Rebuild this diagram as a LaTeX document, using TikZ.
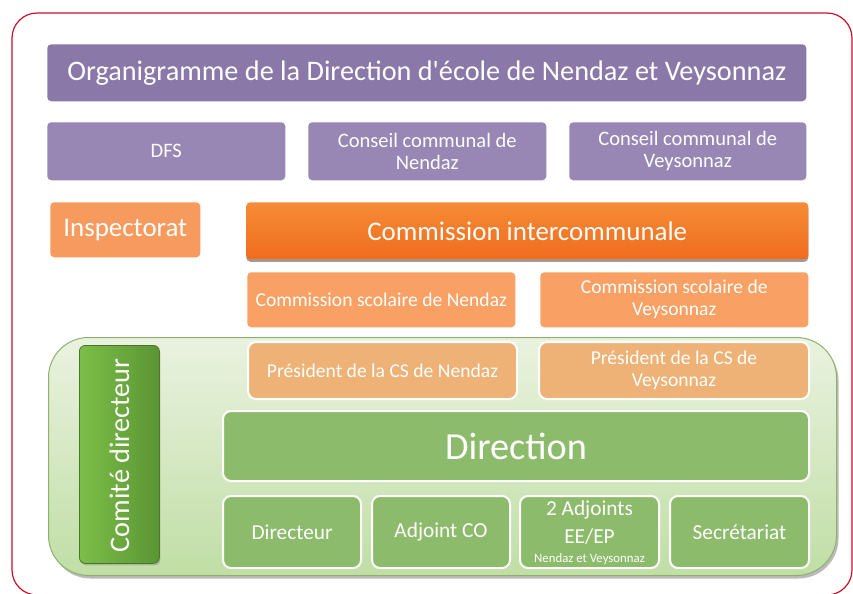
\documentclass[tikz,border=0pt]{standalone}
\usepackage{fontspec}
\setmainfont{Carlito}[Ligatures=TeXOff]
\usetikzlibrary{shadows}
\newdimen\pxu \pxu=0.75pt
\definecolor{frameRed}{HTML}{C8102E}
\definecolor{purTitle}{HTML}{8A78A9}
\definecolor{purRow}{HTML}{9886B5}
\definecolor{orInsp}{HTML}{F79A5E}
\definecolor{orTop}{HTML}{F68C36}
\definecolor{orBot}{HTML}{EF6C1D}
\definecolor{orCS}{HTML}{F9A064}
\definecolor{orPres}{HTML}{EEB277}
\definecolor{grTop}{HTML}{EAF2E0}
\definecolor{grBot}{HTML}{C0DEA5}
\definecolor{grEdge}{HTML}{8FB26A}
\definecolor{grBox}{HTML}{8DBB6C}
\definecolor{grCdL}{HTML}{7CBE48}
\definecolor{grCdR}{HTML}{5B9534}
\begin{document}
\begin{tikzpicture}[x=0.75pt,y=-0.75pt,
  box/.style={anchor=north west, inner sep=0pt, align=center, text=white, rounded corners=4\pxu},
  purtitle/.style={box, fill=purTitle, font=\fontsize{21.2}{24}\selectfont},
  purrow/.style={box, fill=purRow, font=\fontsize{15.4}{16.5}\selectfont},
  orbig/.style={box, font=\fontsize{20.2}{22}\selectfont},
  orcs/.style={box, fill=orCS, font=\fontsize{14.7}{16.5}\selectfont},
  wbox/.style={box, draw=white, line width=2\pxu, rounded corners=8\pxu},
  orpres/.style={wbox, fill=orPres, font=\fontsize{14.7}{16.5}\selectfont},
  grbox/.style={wbox, fill=grBox, font=\fontsize{16}{20}\selectfont},
  wtext/.style={text=white, align=center, inner sep=0pt},
]
\useasboundingbox (0,0) rectangle (853,593);
\fill[white] (0,0) rectangle (853,593);
% outer frame
\draw[frameRed, line width=1.2\pxu, rounded corners=25\pxu] (12,13) rectangle (852,595);

% title
\node[purtitle, minimum width=759\pxu, minimum height=57\pxu] (title) at (47,44) {Organigramme de la Direction d'école de Nendaz et Veysonnaz};

% row 2
\node[purrow, minimum width=238\pxu, minimum height=58\pxu] (dfs) at (47,122) {DFS};
\node[purrow, minimum width=238\pxu, minimum height=58\pxu] (ccn) at (308,122) {Conseil communal de\\Nendaz};
\node[purrow, minimum width=237\pxu, minimum height=58\pxu] (ccv) at (569,122) {Conseil communal de\\Veysonnaz};

% orange
\node[orbig, fill=orInsp, minimum width=150\pxu, minimum height=55\pxu] (insp) at (50,202) {Inspectorat};
\node[orbig, top color=orTop, bottom color=orBot, minimum width=562\pxu, minimum height=57\pxu,
      drop shadow={shadow xshift=0pt, shadow yshift=-2.5\pxu, opacity=0.55, fill=black!70}] (ci) at (246,202) {Commission intercommunale};
\node[orcs, minimum width=268\pxu, minimum height=55\pxu] (csn) at (247,272) {Commission scolaire de Nendaz};
\node[orcs, minimum width=268\pxu, minimum height=55\pxu] (csv) at (540,272) {Commission scolaire de\\Veysonnaz};

% green container
\node[anchor=north west, inner sep=0pt, minimum width=788\pxu, minimum height=238\pxu,
      rounded corners=40\pxu, top color=grTop, bottom color=grBot, draw=grEdge, line width=1\pxu,
      drop shadow={shadow xshift=2\pxu, shadow yshift=-3\pxu, opacity=0.45, fill=black!60}] (cont) at (48,337) {};

% comite directeur
\node[anchor=north west, inner sep=0pt, minimum width=80\pxu, minimum height=218\pxu,
      rounded corners=6\pxu, left color=grCdL, right color=grCdR, draw=grCdR!80!black, line width=0.8\pxu,
      drop shadow={shadow xshift=1\pxu, shadow yshift=-2\pxu, opacity=0.4}] (cd) at (79,345) {};
\node[rotate=90, text=white, font=\fontsize{21.2}{24}\selectfont, inner sep=0pt] (cdt) at ([yshift=-1\pxu]cd.center) {Comité directeur};

% presidents
\node[orpres, minimum width=269\pxu, minimum height=57\pxu] (pn) at (247,341) {Président de la CS de Nendaz};
\node[orpres, minimum width=270\pxu, minimum height=57\pxu] (pv) at (538,341) {Président de la CS de\\Veysonnaz};

% direction
\node[wbox, fill=grBox, font=\fontsize{28.7}{30}\selectfont, minimum width=586\pxu, minimum height=70\pxu] (dir) at (222,410) {Direction};

% bottom row
\node[grbox, minimum width=138\pxu, minimum height=72\pxu] (dirr) at (222,495) {Directeur};
\node[grbox, minimum width=138\pxu, minimum height=72\pxu] (adco) at (371,495) {Adjoint CO};
\node[grbox, minimum width=139\pxu, minimum height=72\pxu] (adj) at (519,495) {};
\node[wtext, font=\fontsize{16}{20}\selectfont] (adjt) at ([yshift=-15\pxu]adj.north) {2 Adjoints};
\node[wtext, font=\fontsize{16}{20}\selectfont] (adje) at ([yshift=-42\pxu]adj.north) {EE/EP};
\node[wtext, font=\fontsize{9.6}{11}\selectfont] (adjs) at ([yshift=10\pxu]adj.south) {Nendaz et Veysonnaz};
\node[grbox, minimum width=139\pxu, minimum height=72\pxu] (sec) at (669,495) {Secrétariat};
\end{tikzpicture}
\end{document}
